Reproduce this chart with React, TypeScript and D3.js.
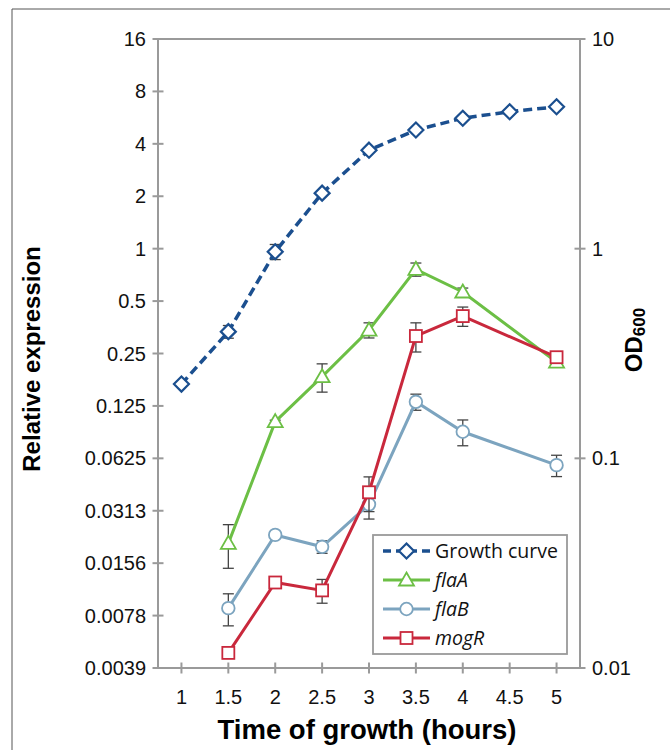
import React from 'react';
import * as d3 from 'd3';

// time points (hours)
const hours = [1, 1.5, 2, 2.5, 3, 3.5, 4, 4.5, 5];
const xTickLabels = ['1', '1.5', '2', '2.5', '3', '3.5', '4', '4.5', '5'];

// growth curve, OD600 (right axis)
const growthX = [1, 1.5, 2, 2.5, 3, 3.5, 4, 4.5, 5];
const growthOD = [0.226, 0.402, 0.967, 1.84, 2.95, 3.68, 4.19, 4.5, 4.75];
const growthErr = [0.005, 0.028, 0.08, 0.03, 0.03, 0.03, 0.03, 0.03, 0.03];

// relative expression (left axis)
const geneX = [1.5, 2, 2.5, 3, 3.5, 4, 5];
const flaA = [0.0203, 0.1015, 0.184, 0.341, 0.761, 0.564, 0.223];
const flaAErr = [0.0057, 0.002, 0.034, 0.034, 0.066, 0.03, 0.01];
const flaB = [0.00862, 0.0227, 0.0194, 0.034, 0.132, 0.0888, 0.0571];
const flaBErr = [0.0018, 0.0004, 0.0016, 0.006, 0.014, 0.015, 0.008];
const mogR = [0.00477, 0.0121, 0.0109, 0.0399, 0.315, 0.41, 0.238];
const mogRErr = [0.0001, 0.0005, 0.0017, 0.009, 0.06, 0.052, 0.01];

const leftTicks = [16, 8, 4, 2, 1, 0.5, 0.25, 0.125, 0.0625, 0.03125, 0.015625, 0.0078125, 0.00390625];
const leftTickLabels = ['16', '8', '4', '2', '1', '0.5', '0.25', '0.125', '0.0625', '0.0313', '0.0156', '0.0078', '0.0039'];
const rightTicks = [10, 1, 0.1, 0.01];
const rightTickLabels = ['10', '1', '0.1', '0.01'];

const axisColor = '#9a9a9a';
const tickFont = '"Liberation Sans", Arial, sans-serif';

type Series = {
  name: string;
  color: string;
  marker: 'diamond' | 'triangle' | 'circle' | 'square';
  dashed: boolean;
  xs: number[];
  ys: number[];
  err: number[];
  right: boolean;
  italic: boolean;
};

const series: Series[] = [
  { name: 'Growth curve', color: '#1b4f8f', marker: 'diamond', dashed: true, xs: growthX, ys: growthOD, err: growthErr, right: true, italic: false },
  { name: 'flaA', color: '#6cbf45', marker: 'triangle', dashed: false, xs: geneX, ys: flaA, err: flaAErr, right: false, italic: true },
  { name: 'flaB', color: '#7ca4bf', marker: 'circle', dashed: false, xs: geneX, ys: flaB, err: flaBErr, right: false, italic: true },
  { name: 'mogR', color: '#c9283c', marker: 'square', dashed: false, xs: geneX, ys: mogR, err: mogRErr, right: false, italic: true },
];

function Marker({ type, x, y, color }: { type: string; x: number; y: number; color: string }) {
  const sw = 1.8;
  if (type === 'diamond') {
    const r = 7.5;
    return <path d={`M${x},${y - r}L${x + r},${y}L${x},${y + r}L${x - r},${y}Z`} fill="#fff" stroke={color} strokeWidth={2.2} />;
  }
  if (type === 'triangle') {
    return <path d={`M${x},${y - 7.5}L${x + 7.5},${y + 5.5}L${x - 7.5},${y + 5.5}Z`} fill="#fff" stroke={color} strokeWidth={sw} />;
  }
  if (type === 'circle') {
    return <circle cx={x} cy={y} r={6.3} fill="#fff" stroke={color} strokeWidth={sw} />;
  }
  return <rect x={x - 6} y={y - 6} width={12} height={12} fill="#fff" stroke={color} strokeWidth={sw} />;
}

export default function App() {
  const x = d3.scaleLinear().domain([0.75, 5.25]).range([158, 580]);
  const yLeft = d3.scaleLog().base(2).domain([2 ** -8, 16]).range([668, 39]);
  const yRight = d3.scaleLog().base(10).domain([0.01, 10]).range([668, 39]);
  const [x0, x1] = x.range();
  const [yb, yt] = yLeft.range();

  const legend = { x: 373, y: 535, w: 194, h: 119 };

  return (
    <svg width={670} height={750} style={{ position: 'absolute', left: 0, top: 0, background: '#fff' }}>
      {/* outer frame */}
      <path d="M12,760V9H680" fill="none" stroke="#555" strokeWidth={1} />

      {/* plot box */}
      <rect x={x0} y={yt} width={x1 - x0} height={yb - yt} fill="none" stroke={axisColor} strokeWidth={2} />

      {/* left axis ticks */}
      {leftTicks.map((t, i) => (
        <g key={'l' + i}>
          <line x1={x0 - 5.5} x2={x0 + 5.5} y1={yLeft(t)} y2={yLeft(t)} stroke={axisColor} strokeWidth={2} />
          <text x={146} y={yLeft(t) + 7} textAnchor="end" fontFamily={tickFont} fontSize={20} fill="#111">
            {leftTickLabels[i]}
          </text>
        </g>
      ))}

      {/* right axis ticks */}
      {rightTicks.map((t, i) => (
        <g key={'r' + i}>
          <line x1={x1 - 5.5} x2={x1 + 5.5} y1={yRight(t)} y2={yRight(t)} stroke={axisColor} strokeWidth={2} />
          <text x={592} y={yRight(t) + 7} textAnchor="start" fontFamily={tickFont} fontSize={20} fill="#111">
            {rightTickLabels[i]}
          </text>
        </g>
      ))}

      {/* x axis ticks */}
      {hours.map((h, i) => (
        <g key={'x' + i}>
          <line x1={x(h)} x2={x(h)} y1={yb - 5.5} y2={yb + 5.5} stroke={axisColor} strokeWidth={2} />
          <text x={x(h)} y={704} textAnchor="middle" fontFamily={tickFont} fontSize={20} fill="#111">
            {xTickLabels[i]}
          </text>
        </g>
      ))}

      {/* axis titles */}
      <text x={367} y={739} textAnchor="middle" fontFamily={tickFont} fontWeight="bold" fontSize={27.5} fill="#000">
        Time of growth (hours)
      </text>
      <text transform="translate(40,359) rotate(-90)" textAnchor="middle" fontFamily={tickFont} fontWeight="bold" fontSize={24} fill="#000">
        Relative expression
      </text>
      <text transform="translate(642,340) rotate(-90)" textAnchor="middle" fontFamily={tickFont} fontWeight="bold" fontSize={24} fill="#000">
        OD<tspan fontSize={17} dy={3}>600</tspan>
      </text>

      {/* series */}
      {series.map((s) => {
        const y = s.right ? yRight : yLeft;
        const pts: [number, number][] = s.xs.map((h, i) => [x(h), y(s.ys[i])]);
        const line = d3.line()(pts) || '';
        return (
          <g key={s.name}>
            {s.xs.map((h, i) => {
              const top = y(s.ys[i] + s.err[i]);
              const bot = y(Math.max(s.ys[i] - s.err[i], 1e-6));
              const cx = x(h);
              return (
                <g key={i} stroke="#444" strokeWidth={1.3}>
                  <line x1={cx} x2={cx} y1={top} y2={bot} />
                  <line x1={cx - 5.5} x2={cx + 5.5} y1={top} y2={top} />
                  <line x1={cx - 5.5} x2={cx + 5.5} y1={bot} y2={bot} />
                </g>
              );
            })}
            <path d={line} fill="none" stroke={s.color} strokeWidth={s.dashed ? 3.5 : 3} strokeDasharray={s.dashed ? '9,5' : undefined} />
            {pts.map((p, i) => (
              <Marker key={i} type={s.marker} x={p[0]} y={p[1]} color={s.color} />
            ))}
          </g>
        );
      })}

      {/* legend */}
      <rect x={legend.x} y={legend.y} width={legend.w} height={legend.h} fill="#fff" stroke={axisColor} strokeWidth={1.8} />
      {series.map((s, i) => {
        const ly = legend.y + 16 + i * 29;
        return (
          <g key={'leg' + i}>
            <line x1={383} x2={430} y1={ly} y2={ly} stroke={s.color} strokeWidth={s.dashed ? 3.5 : 3} strokeDasharray={s.dashed ? '8,5' : undefined} />
            <Marker type={s.marker} x={406.5} y={ly} color={s.color} />
            <text x={435} y={ly + 7} fontFamily='"Open Sans", sans-serif' fontSize={19.5} fontStyle={s.italic ? 'italic' : 'normal'} fill="#111">
              {s.name}
            </text>
          </g>
        );
      })}
    </svg>
  );
}
